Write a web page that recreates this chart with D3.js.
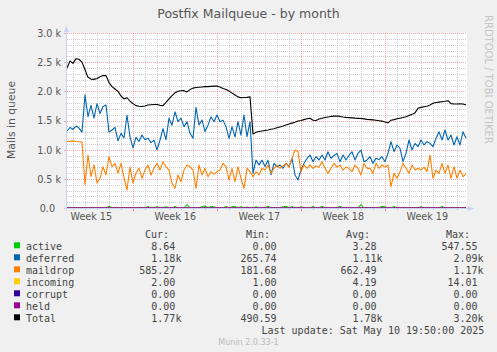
<!DOCTYPE html>
<html><head><meta charset="utf-8">
<script src="https://cdn.jsdelivr.net/npm/d3@7"></script>
<style>
html,body{margin:0;padding:0;background:#f0f0f0;}
svg{display:block;}
text{font-family:"DejaVu Sans",sans-serif;}
.mono{font-family:"DejaVu Sans Mono",monospace;}
</style></head><body>
<svg id="c" width="497" height="352"></svg>
<script>
// ---- data ----
const titleText = "Postfix Mailqueue - by month";
const yAxisLabel = "Mails in queue";
const yTickValues = [0, 500, 1000, 1500, 2000, 2500, 3000];
const yTickLabels = ["0.0", "0.5 k", "1.0 k", "1.5 k", "2.0 k", "2.5 k", "3.0 k"];
const weekLabels = ["Week 15", "Week 16", "Week 17", "Week 18", "Week 19"];

// samples every 6 hours, first sample 2025-04-07 12:30 UTC
const active = [0,0,0,0,0,0,0,0,0,0, 0,0,0,0,30,0,0,0,0,0, 0,0,0,0,0,0,0,25,0,0,
  20,0,0,20,0,0,25,0,0,0, 60,0,0,0,0,20,35,0,25,20, 0,0,0,25,0,20,25,0,20,0,
  15,0,0,20,0,0,0,30,0,0, 0,0,20,30,0,25,0,0,20,0, 0,0,25,0,0,30,0,0,0,0,
  0,30,0,0,0,0,0,0,60,0, 0,0,0,0,0,30,20,0,0,25, 0,0,0,0,0,0,0,0,20,0,
  0,0,0,0,0,25,0,0,0,0, 0,0,0,9];
const deferred = [1320,1380,1350,1405,1370,1300,1940,1565,1760,1540,
  1790,1620,1740,1765,1300,1337,1383,1150,1280,1200,
  1590,1220,1030,1210,1140,1250,1170,1195,1120,1165,
  995,1165,1360,1170,1540,1420,1650,1480,1540,1395,
  1480,1280,1195,1726,1425,1510,1310,1420,1565,1480,
  1594,1480,1505,1395,1195,1395,1220,1480,1250,1594,
  1222,1480,594,820,740,820,710,820,570,766,
  708,737,680,766,708,851,566,480,651,766,
  850,908,794,880,823,908,823,965,851,900,
  937,794,908,823,900,965,823,937,994,794,
  823,880,766,851,830,880,794,937,1137,965,
  1080,1023,794,937,1166,994,1108,1051,1166,1080,
  1137,1108,1051,1194,1308,1166,1337,1166,1251,1080,
  1222,1080,1308,1194];
const maildrop = [1140,1145,1150,1140,1135,1130,400,908,540,740,
  430,509,708,566,880,708,766,600,766,520,
  310,700,430,600,680,510,650,737,566,680,
  766,650,794,708,651,423,337,566,451,651,
  737,708,651,337,737,566,680,537,623,580,
  620,651,766,708,480,680,451,708,509,337,
  680,623,537,623,566,680,651,737,594,680,
  737,680,720,766,700,851,994,965,623,740,
  680,740,680,720,700,794,680,594,680,766,
  700,737,651,700,680,623,737,680,566,766,
  680,680,594,766,680,737,700,737,365,594,
  509,623,766,680,594,737,651,680,651,700,
  623,908,509,651,594,766,594,737,509,708,
  509,650,537,585];
const incoming = [3,4,2,5,6,3,4,8,3,2,4,5,3,6,4,3,2,5,4,3,6,4,2,3,5,4,3,7,4,2,3,5,3,2];
const corrupt = [0, 0];
const held = [0, 0];
const total = [2400,2520,2480,2560,2550,2500,2370,2240,2210,2205,
  2220,2250,2270,2270,2150,2080,2040,2000,1920,1870,
  1890,1830,1790,1755,1745,1740,1750,1765,1770,1775,
  1775,1760,1755,1810,1870,1925,1975,2000,2010,2012,
  1990,2030,2055,2065,2070,2075,2080,2080,2085,2090,
  2090,2075,2050,2030,2005,1970,1937,1905,1890,1895,
  1897,1908,1270,1300,1310,1320,1330,1337,1350,1360,
  1375,1390,1405,1423,1440,1455,1470,1490,1500,1515,
  1530,1537,1505,1500,1525,1540,1550,1560,1570,1575,
  1577,1570,1560,1554,1550,1545,1540,1537,1535,1528,
  1520,1515,1510,1505,1497,1490,1475,1460,1505,1515,
  1530,1540,1550,1565,1585,1605,1630,1710,1725,1735,
  1745,1765,1795,1808,1815,1822,1830,1840,1790,1782,
  1782,1785,1782,1765];

const legendNames = ["active","deferred","maildrop","incoming","corrupt","held","Total"];
const legendColors = ["#00cc00","#0066b3","#ff8000","#ffcc00","#330099","#990099","#000000"];
const curVals = ["8.64","1.18k","585.27","2.00","0.00","0.00","1.77k"];
const minVals = ["0.00","265.74","181.68","1.00","0.00","0.00","490.59"];
const avgVals = ["3.28","1.11k","662.49","4.19","0.00","0.00","1.78k"];
const maxVals = ["547.55","2.09k","1.17k","14.01","0.00","0.00","3.20k"];
const lastUpdate = "Last update: Sat May 10 19:50:00 2025";
const versionText = "Munin 2.0.33-1";
const watermark = "RRDTOOL / TOBI OETIKER";

// ---- layout ----
const PX0 = 67, PX1 = 467, PY0 = 33, PY1 = 208;
const HOUR = 3600000, DAY = 24 * HOUR;
const tStart = Date.UTC(2025, 3, 7, 12, 30);
const tEnd = tStart + (400 / 12) * DAY;
const firstSample = tStart, lastSample = tStart + 133 * 6 * HOUR;

const x = d3.scaleUtc().domain([new Date(tStart), new Date(tEnd)]).range([PX0, PX1]);
const y = d3.scaleLinear().domain([0, 3000]).range([PY1, PY0]);

const svg = d3.select("#c");
svg.append("rect").attr("width", 497).attr("height", 352).attr("fill", "#f0f0f0");
svg.append("rect").attr("x", PX0).attr("y", PY0).attr("width", PX1 - PX0).attr("height", PY1 - PY0).attr("fill", "#ffffff");

const grid = svg.append("g");
const minorColor = "rgba(175,175,175,0.6)", majorColor = "rgba(255,95,95,0.55)";
// horizontal grid
d3.range(0, 3001, 100).forEach(v => {
  const yy = Math.round(y(v)) + 0.5;
  grid.append("line").attr("x1", PX0).attr("x2", PX1).attr("y1", yy).attr("y2", yy)
    .attr("stroke", v % 500 === 0 ? majorColor : minorColor).attr("stroke-dasharray", "1,1");
});
// vertical grid
const days = d3.utcDay.range(new Date(tStart), new Date(tEnd));
days.forEach(d => {
  const xx = Math.round(x(d)) + 0.5;
  const major = d.getUTCDay() === 0;
  grid.append("line").attr("x1", xx).attr("x2", xx).attr("y1", PY0).attr("y2", PY1)
    .attr("stroke", major ? majorColor : minorColor).attr("stroke-dasharray", "1,1");
  grid.append("line").attr("x1", xx).attr("x2", xx).attr("y1", PY1).attr("y2", PY1 + (major ? 3 : 2))
    .attr("stroke", major ? "rgba(255,95,95,0.8)" : "#bbbbbb");
});
// y ticks on axis
yTickValues.forEach(v => {
  const yy = Math.round(y(v)) + 0.5;
  grid.append("line").attr("x1", PX0 - 3).attr("x2", PX0).attr("y1", yy).attr("y2", yy).attr("stroke", "#bbbbbb");
});

// ---- series ----
svg.append("clipPath").attr("id", "pc").append("rect")
  .attr("x", PX0).attr("y", PY0 - 2).attr("width", PX1 - PX0).attr("height", PY1 - PY0 + 3);
function pts(arr) {
  const n = arr.length;
  return arr.map((v, i) => ({ t: new Date(firstSample + i * (lastSample - firstSample) / (n - 1)), v }));
}
const line = d3.line().x(d => x(d.t)).y(d => y(d.v));
const seriesData = [active, deferred, maildrop, incoming, corrupt, held, total];
const gl = svg.append("g").attr("clip-path", "url(#pc)");

// axes lines (under the data)
const axisColor = "#c9d2f5";
svg.append("line").attr("x1", PX0 - 0.5).attr("x2", PX0 - 0.5).attr("y1", PY0 - 4).attr("y2", PY1 + 3).attr("stroke", axisColor);
svg.append("line").attr("x1", PX0 - 3).attr("x2", PX1 + 3).attr("y1", PY1 + 0.5).attr("y2", PY1 + 0.5).attr("stroke", axisColor);
svg.append("path").attr("d", `M${PX0 - 3},${PY0 - 1} L${PX0 - 0.5},${PY0 - 7} L${PX0 + 2},${PY0 - 1} Z`).attr("fill", axisColor);
svg.append("path").attr("d", `M${PX1 + 1},${PY1 - 2} L${PX1 + 7},${PY1 + 0.5} L${PX1 + 1},${PY1 + 3} Z`).attr("fill", axisColor);

seriesData.forEach((arr, k) => {
  gl.append("path").datum(pts(arr)).attr("d", line)
    .attr("fill", "none").attr("stroke", legendColors[k]).attr("stroke-width", 1.1)
    .attr("stroke-linejoin", "round");
});

// ---- axes labels ----
const yAxis = d3.axisLeft(y).tickValues(yTickValues).tickFormat((d, i) => yTickLabels[i]).tickSize(0);
const gy = svg.append("g").attr("transform", `translate(${PX0},0)`).call(yAxis);
gy.select(".domain").remove();
gy.selectAll("text").attr("x", (d, i) => yTickLabels[i].endsWith("k") ? -6 : -12)
  .attr("dy", "0.36em").attr("fill", "#555").style("font-size", "9.6px").style("font-family", "DejaVu Sans");

const weekStarts = d3.utcSunday.range(new Date(Date.UTC(2025, 3, 6)), new Date(Date.UTC(2025, 4, 5)));
const weekCenters = weekStarts.map(d => new Date(+d + 3.5 * DAY));
const xAxis = d3.axisBottom(x).tickValues(weekCenters).tickFormat((d, i) => weekLabels[i]).tickSize(0);
const gx = svg.append("g").attr("transform", `translate(0,${PY1})`).call(xAxis);
gx.select(".domain").remove();
gx.selectAll("text").attr("y", 12.3).attr("dy", 0).attr("fill", "#555")
  .style("font-size", "9.6px").style("font-family", "DejaVu Sans");

svg.append("text").attr("x", 248.5).attr("y", 17.8).attr("text-anchor", "middle")
  .attr("fill", "#555").style("font-size", "12.5px").text(titleText);
svg.append("text").attr("transform", "translate(14.5,120) rotate(-90)").attr("text-anchor", "middle")
  .attr("fill", "#555").style("font-size", "10.8px").text(yAxisLabel);
svg.append("text").attr("transform", "translate(485,15) rotate(90)").attr("text-anchor", "start")
  .attr("fill", "#c4c4c4").style("font-size", "10px").text(watermark);

// ---- legend ----
const lg = svg.append("g").attr("class", "mono").attr("fill", "#444").style("font-size", "10px");
const headX = [145, 246, 346, 446], headT = ["Cur:", "Min:", "Avg:", "Max:"];
headT.forEach((t, i) => lg.append("text").attr("class", "mono").attr("x", headX[i]).attr("y", 237.8).text(t));
const fieldEnd = [175.4, 276.5, 376.5, 477.5];
const cols = [curVals, minVals, avgVals, maxVals];
legendNames.forEach((name, k) => {
  const base = 249.8 + 12 * k;
  lg.append("rect").attr("x", 14).attr("y", base - 7.5).attr("width", 6).attr("height", 6).attr("fill", legendColors[k]);
  lg.append("text").attr("class", "mono").attr("x", 26).attr("y", base).text(name);
  cols.forEach((col, c) => {
    const s = col[k];
    const hasK = s.endsWith("k");
    lg.append("text").attr("class", "mono").attr("x", fieldEnd[c]).attr("y", base).attr("text-anchor", "end").text(hasK ? s.slice(0, -1) : s);
    if (hasK) lg.append("text").attr("class", "mono").attr("x", fieldEnd[c]).attr("y", base).text("k");
  });
});
lg.append("text").attr("class", "mono").attr("x", 261.5).attr("y", 249.8 + 12 * 7).text(lastUpdate);
svg.append("text").attr("x", 248.5).attr("y", 344.5).attr("text-anchor", "middle")
  .attr("fill", "#bbbbbb").style("font-size", "8px").text(versionText);
</script>
</body></html>
